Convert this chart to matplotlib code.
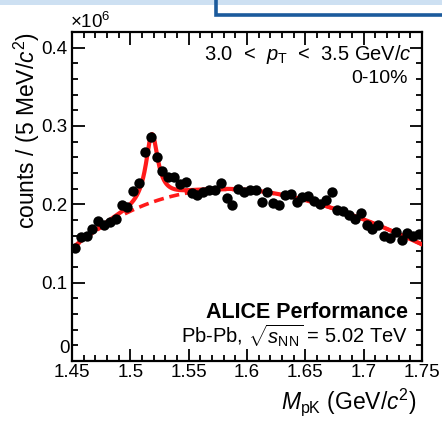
import numpy as np
import matplotlib
matplotlib.use("Agg")
import matplotlib.pyplot as plt
from matplotlib.ticker import MultipleLocator, FixedLocator
from matplotlib.patches import Rectangle
from matplotlib.lines import Line2D

plt.rcParams['font.family'] = ['Liberation Sans', 'DejaVu Sans']
plt.rcParams['mathtext.fontset'] = 'custom'
plt.rcParams['mathtext.rm'] = 'Liberation Sans'
plt.rcParams['mathtext.it'] = 'Liberation Sans:italic'
plt.rcParams['mathtext.bf'] = 'Liberation Sans:bold'

# ---- data (counts in units of 1e6, 5 MeV bins) ----
bin_start = 1.45
bin_width = 0.005
counts = [0.144, 0.158, 0.159, 0.168, 0.179, 0.174, 0.178, 0.181, 0.199, 0.197,
          0.217, 0.227, 0.267, 0.286, 0.261, 0.242, 0.235, 0.235, 0.226, 0.229,
          0.214, 0.212, 0.216, 0.218, 0.218, 0.227, 0.208, 0.199, 0.220, 0.216,
          0.218, 0.218, 0.203, 0.216, 0.202, 0.199, 0.212, 0.213, 0.203, 0.209,
          0.210, 0.204, 0.200, 0.206, 0.216, 0.193, 0.192, 0.186, 0.181, 0.189,
          0.173, 0.168, 0.174, 0.160, 0.157, 0.165, 0.154, 0.164, 0.160, 0.162]

# background read at knots
bkg_knots_x = [1.45, 1.50, 1.55, 1.60, 1.65, 1.70, 1.75]
bkg_knots_y = [0.143, 0.192, 0.214, 0.218, 0.206, 0.180, 0.149]
# peak parameters (Breit-Wigner)
peak_mass = 1.5185
peak_width = 0.0125
peak_amp = 0.087

xticks = [1.45, 1.5, 1.55, 1.6, 1.65, 1.7, 1.75]
xticklabels = ['1.45', '1.5', '1.55', '1.6', '1.65', '1.7', '1.75']
yticks = [0.0, 0.1, 0.2, 0.3, 0.4]
yticklabels = ['', '0.1', '0.2', '0.3', '0.4']
yzero_label = '0'

# ---- figure ----
fig = plt.figure(figsize=(4.42, 4.23), dpi=100)
W, H = 442, 423

# slide artifacts at top
fig.patches.append(Rectangle((0, 1 - 5 / H), 1, 5 / H, transform=fig.transFigure,
                             facecolor='#cde0f2', edgecolor='none', zorder=0))
fig.lines.append(Line2D([216 / W, 216 / W, 1.0], [1.0, 1 - 15 / H, 1 - 15 / H],
                        transform=fig.transFigure, color='#1b5a9c', lw=2.6,
                        solid_joinstyle='miter'))

ax = fig.add_axes([72 / W, 1 - 361 / H, (422 - 72) / W, (361 - 32) / H])

n = len(counts)
xc = bin_start + bin_width * (np.arange(n) + 0.5)

coef = np.polyfit(bkg_knots_x, bkg_knots_y, 4)
xf = np.linspace(1.45, 1.75, 1200)
bkg = np.polyval(coef, xf)
sig = peak_amp / (1 + ((xf - peak_mass) / (peak_width / 2)) ** 2)

ax.plot(xf, bkg, color='#ff1a1a', lw=2.6, ls=(0, (2.8, 1.6)), zorder=2)
ax.plot(xf, bkg + sig, color='#ff1a1a', lw=3.0, zorder=3)
ax.scatter(xc, counts, s=56, color='black', zorder=4, linewidths=0)

ax.set_xlim(1.45, 1.75)
ax.set_ylim(0, 0.42)
ax.xaxis.set_major_locator(FixedLocator(xticks))
ax.set_xticklabels(xticklabels)
ax.xaxis.set_minor_locator(MultipleLocator(0.01))
ax.yaxis.set_major_locator(FixedLocator(yticks))
ax.set_yticklabels(yticklabels)
ax.yaxis.set_minor_locator(MultipleLocator(0.02))

ax.tick_params(which='both', direction='in', top=True, right=True,
               labelsize=13.5, width=1.3, colors='black')
ax.tick_params(which='major', length=9)
ax.tick_params(which='minor', length=4.5)
ax.tick_params(axis='x', which='major', pad=2)
ax.tick_params(axis='y', which='major', pad=3)
for s in ax.spines.values():
    s.set_linewidth(1.6)

ax.text(-0.006, 0.012, yzero_label, transform=ax.transAxes, fontsize=13.5,
        ha='right', va='bottom')

ax.text(-0.005, 1.0, r'$\times$10$^{6}$', transform=ax.transAxes, fontsize=13.5,
        ha='left', va='bottom')

ax.text(-0.13, 1.0, r'counts / (5 MeV/$c^{2}$)', transform=ax.transAxes,
        fontsize=16.5, rotation=90, ha='center', va='top')
ax.text(0.985, -0.145, r'$M_{\mathrm{pK}}$ (GeV/$c^{2}$)', transform=ax.transAxes,
        fontsize=16.5, ha='right', va='baseline')

ax.text(0.97, 0.915, r'3.0  <  $p_{\mathrm{T}}$  <  3.5 GeV/$c$', transform=ax.transAxes,
        fontsize=14.5, ha='right', va='baseline')
ax.text(0.96, 0.845, '0-10%', transform=ax.transAxes,
        fontsize=14, ha='right', va='baseline')
ax.text(0.96, 0.132, 'ALICE Performance', transform=ax.transAxes,
        fontsize=15.5, ha='right', va='baseline', fontweight='bold')
ax.text(0.96, 0.055, r'Pb-Pb, $\sqrt{s_{\mathrm{NN}}}$ = 5.02 TeV', transform=ax.transAxes,
        fontsize=14.5, ha='right', va='baseline')

fig.savefig('out.png', dpi=100)
